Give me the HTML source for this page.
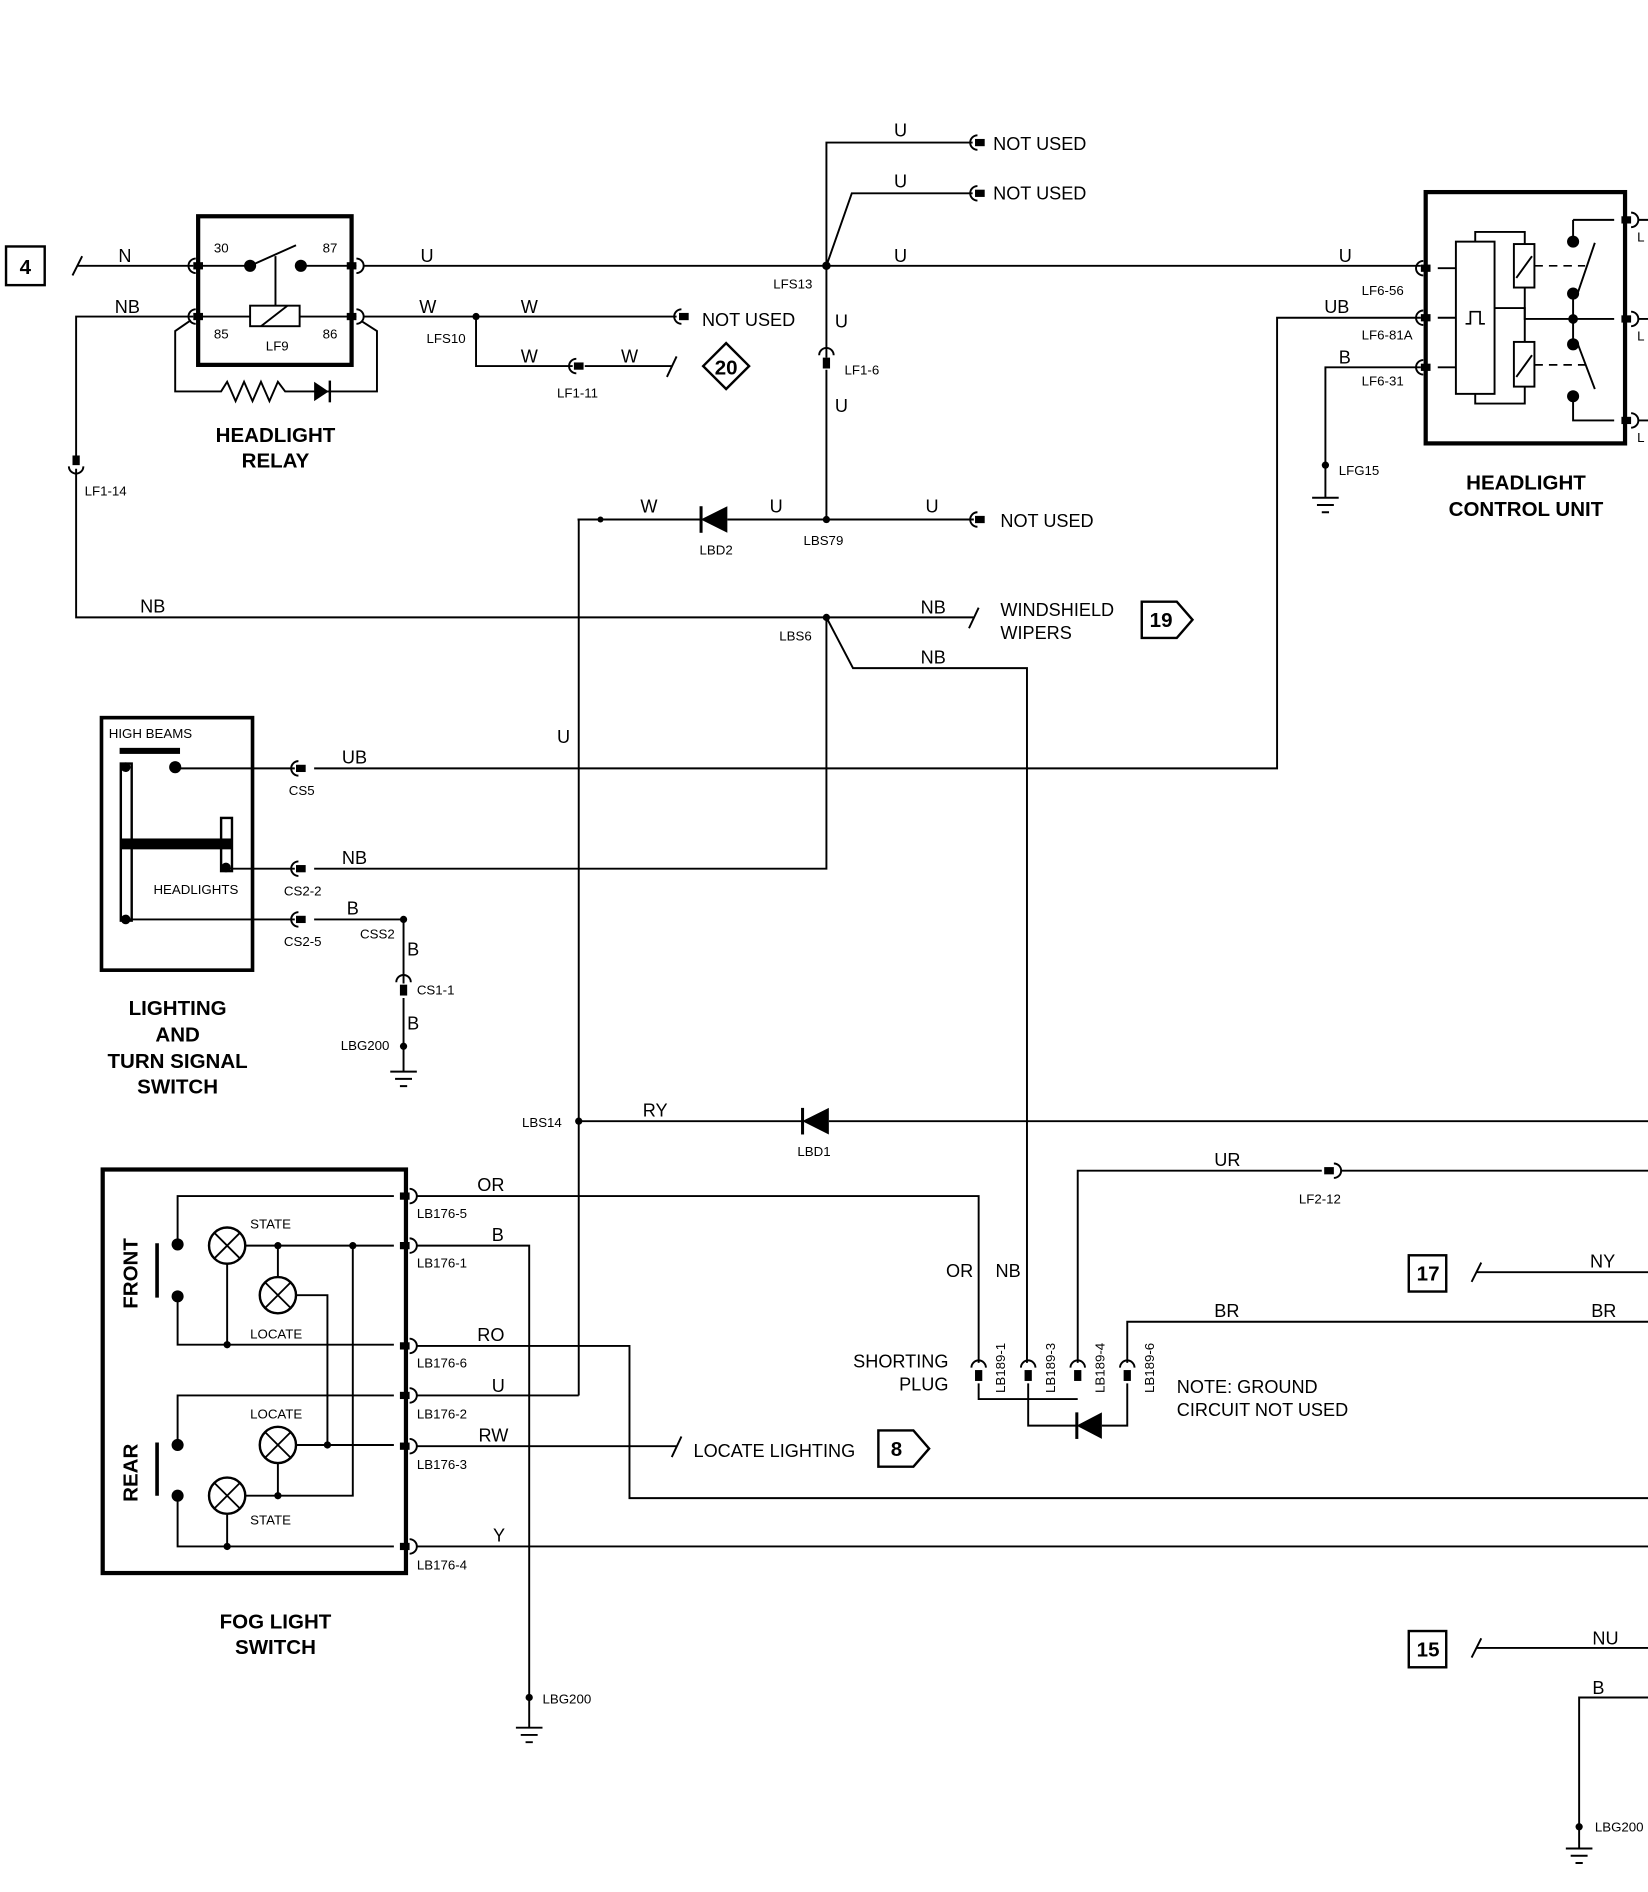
<!DOCTYPE html>
<html><head><meta charset="utf-8"><style>
html,body{margin:0;padding:0;background:#fff;}
svg{display:block;}
text{font-family:"Liberation Sans",Arial,sans-serif;fill:#000;}
.w{font-size:15px;}
.s{font-size:11px;}
.t{font-size:17px;font-weight:bold;}
</style></head><body>
<svg width="1648" height="1892" viewBox="0 0 1364 1566" preserveAspectRatio="none" xmlns="http://www.w3.org/2000/svg">
<defs>
<g id="ch"><path d="M4,-6 A6,6 0 0 0 4,6" fill="none" stroke="#000" stroke-width="1.6"/><rect x="2" y="-3" width="8" height="6" fill="#000"/></g>
<g id="cr"><path d="M-2,-6 A6,6 0 0 1 -2,6" fill="#fff" stroke="#000" stroke-width="1.6"/><rect x="-10" y="-3" width="8" height="6" fill="#000"/></g>
<g id="cv"><path d="M-6,0 A6,6 0 0 0 6,0" fill="none" stroke="#000" stroke-width="1.6"/><rect x="-3" y="-9" width="6" height="8" fill="#000"/></g>
<g id="cu"><path d="M-6,0 A6,6 0 0 1 6,0" fill="none" stroke="#000" stroke-width="1.6"/><rect x="-3" y="2" width="6" height="9" fill="#000"/></g>
<g id="gnd"><path d="M-11,0 H11 M-7,6 H7 M-3,12 H3" stroke="#000" stroke-width="1.6"/></g>
<g id="lamp"><circle r="15" fill="#fff" stroke="#000" stroke-width="2"/><path d="M-10.6,-10.6 L10.6,10.6 M-10.6,10.6 L10.6,-10.6" stroke="#000" stroke-width="1.5"/></g>
</defs>
<g fill="none" stroke="#000" stroke-width="1.6">
<rect x="5" y="204" width="32" height="32" stroke-width="2"/>
<path d="M60,228 L68,212 M64,220 H160"/>
<rect x="164" y="179" width="127" height="123" stroke-width="3.5"/>
<path d="M164,220 H205 M207,220 L245,203 M251,220 H291 M228,212 V253"/>
<path d="M164,262 H207 M248,262 H291"/>
<rect x="207" y="253" width="41" height="17"/>
<path d="M216,270 L238,253"/>
<path d="M158,265 L145,274 V324 H183 L188,316 L195,332 L202,316 L209,332 L216,316 L223,332 L230,316 L236,324 H312 V274 L298,265"/>
<path d="M160,262 H63 V378 M63,388 V511 H806 M802,520 L810,503"/>
<path d="M291,220 H1176"/>
<path d="M684,220 V118 H805 M684,220 L705,160 H805"/>
<path d="M684,220 V296 M684,306 V430"/>
<path d="M478,430 H580 M602,430 H806"/>
<path d="M479,430 V1155"/>
<path d="M291,262 H560 M394,262 V303 H474 M484,303 H556 M552,312 L560,295"/>
<path d="M601,284 L620,303 L601,322 L582,303 Z" stroke-width="2"/>
<path d="M684,511 L706,553 H850 V1128 M684,511 V719 H260"/>
<path d="M945,498 H974 L987,513 L974,528 H945 Z" stroke-width="2"/>
<rect x="1180" y="159" width="165" height="208" stroke-width="3.5"/>
<path d="M1190,222 H1205 M1190,263 H1205 M1190,304 H1205"/>
<rect x="1205" y="200" width="32" height="126"/>
<path d="M1213,268 H1217 V258 H1225 V268 H1229" stroke-width="1.4"/>
<path d="M1221,200 V192 H1262 V202 M1237,255 H1262 V283 M1221,326 V334 H1262 V320"/>
<rect x="1253" y="202" width="17" height="36"/>
<rect x="1253" y="283" width="17" height="37"/>
<path d="M1255,230 L1268,212 M1255,312 L1268,294"/>
<path d="M1262,238 V264 H1302"/>
<path d="M1302,182 H1336 M1302,182 V200 M1305,245 L1320,201 M1302,243 V285 M1306,285 L1320,322 M1302,328 V348 H1336 M1302,264 H1336"/>
<path d="M1352,182 H1364 M1352,264 H1364 M1352,348 H1364"/>
<path d="M1176,263 H1057 V636 H260"/>
<path d="M1176,304 H1097 V412"/>
<rect x="84" y="594" width="125" height="209" stroke-width="3"/>
<path d="M146,636 H244 M190,719 H244 M105,761 H244"/>
<rect x="100" y="632" width="9" height="130" stroke-width="2"/>
<rect x="183" y="677" width="9" height="44" stroke-width="2"/>
<path d="M260,761 H334 V814 M334,826 V887"/>
<path d="M479,928 H664 M686,928 H1364"/>
<rect x="85" y="968" width="251" height="334" stroke-width="3.5"/>
<path d="M147,1030 V990 H326 M147,1073 V1113 H326 M188,1046 V1113 M203,1031 H326 M230,1031 V1057 M245,1072 H271 V1196 M147,1196 V1155 H326 M147,1238 V1280 H326 M188,1254 V1280 M245,1196 H326 M230,1211 V1238 M203,1238 H292 V1031"/>
<path d="M130,1029 V1074 M130,1194 V1238" stroke-width="3"/>
<path d="M340,990 H810 V1128 M340,1031 H438 V1430 M340,1114 H521 V1240 H1364 M340,1155 H479 M340,1197 H560 M556,1206 L564,1189 M340,1280 H1364"/>
<path d="M727,1184 H756 L769,1199 L756,1214 H727 Z" stroke-width="2"/>
<path d="M810,1145 V1158 H892 M851,1145 V1180 H891 M912,1180 H933 V1145 M892,1128 V969 H1094 M1106,969 H1364 M933,1128 V1094 H1364"/>
<rect x="1166" y="1039" width="31" height="30" stroke-width="2"/>
<path d="M1218,1061 L1226,1045 M1222,1053 H1364"/>
<rect x="1166" y="1350" width="31" height="30" stroke-width="2"/>
<path d="M1218,1372 L1226,1356 M1222,1364 H1364 M1364,1405 H1307 V1530"/>
</g>
<path d="M1270,220 H1312 M1270,302 H1312" stroke="#000" stroke-width="1.4" stroke-dasharray="7,5" fill="none"/>
<g fill="#000">
<circle cx="207" cy="220" r="5"/><circle cx="249" cy="220" r="5"/>
<polygon points="260,316 272,324 260,332"/><rect x="272" y="315" width="2" height="18"/>
<circle cx="684" cy="220" r="3.5"/><circle cx="394" cy="262" r="3"/>
<circle cx="684" cy="430" r="3"/><circle cx="497" cy="430" r="2.5"/><circle cx="684" cy="511" r="3"/>
<polygon points="580,430 602,419 602,441"/><rect x="579" y="419" width="2.5" height="22"/>
<polygon points="664,928 686,917 686,939"/><rect x="663" y="917" width="2.5" height="22"/>
<polygon points="891,1180 912,1169 912,1191"/><rect x="890" y="1169" width="2.5" height="22"/>
<circle cx="479" cy="928" r="3"/><circle cx="334" cy="761" r="3"/><circle cx="334" cy="866" r="3"/>
<circle cx="1097" cy="385" r="3"/><circle cx="438" cy="1405" r="3"/><circle cx="1307" cy="1512" r="3"/>
<circle cx="1302" cy="200" r="5"/><circle cx="1302" cy="243" r="5"/><circle cx="1302" cy="264" r="4"/><circle cx="1302" cy="285" r="5"/><circle cx="1302" cy="328" r="5"/>
<rect x="99" y="619" width="50" height="5"/>
<circle cx="145" cy="635" r="5"/><circle cx="104" cy="635" r="4"/><circle cx="104" cy="761" r="4"/><circle cx="187" cy="718" r="4"/>
<rect x="100" y="694" width="92" height="9"/>
<circle cx="147" cy="1030" r="5"/><circle cx="147" cy="1073" r="5"/><circle cx="147" cy="1196" r="5"/><circle cx="147" cy="1238" r="5"/>
<circle cx="230" cy="1031" r="3"/><circle cx="292" cy="1031" r="3"/><circle cx="188" cy="1113" r="3"/><circle cx="271" cy="1196" r="3"/><circle cx="230" cy="1238" r="3"/><circle cx="188" cy="1280" r="3"/>
</g>
<use href="#lamp" x="188" y="1031"/><use href="#lamp" x="230" y="1072"/><use href="#lamp" x="230" y="1196"/><use href="#lamp" x="188" y="1238"/>
<use href="#ch" x="158" y="220"/><use href="#cr" x="297" y="220"/>
<use href="#ch" x="158" y="262"/><use href="#cr" x="297" y="262"/>
<use href="#ch" x="805" y="118"/><use href="#ch" x="805" y="160"/><use href="#ch" x="805" y="430"/><use href="#ch" x="560" y="262"/>
<use href="#ch" x="473" y="303"/><use href="#cu" x="684" y="294"/><use href="#cv" x="63" y="386"/>
<use href="#ch" x="1174" y="222"/><use href="#ch" x="1174" y="263"/><use href="#ch" x="1174" y="304"/>
<use href="#cr" x="1352" y="182"/><use href="#cr" x="1352" y="264"/><use href="#cr" x="1352" y="348"/>
<use href="#ch" x="243" y="636"/><use href="#ch" x="243" y="719"/><use href="#ch" x="243" y="761"/>
<use href="#cu" x="334" y="813"/>
<use href="#cr" x="341" y="990"/><use href="#cr" x="341" y="1031"/><use href="#cr" x="341" y="1114"/><use href="#cr" x="341" y="1155"/><use href="#cr" x="341" y="1197"/><use href="#cr" x="341" y="1280"/>
<use href="#cr" x="1106" y="969"/>
<use href="#cu" x="810" y="1132"/><use href="#cu" x="851" y="1132"/><use href="#cu" x="892" y="1132"/><use href="#cu" x="933" y="1132"/>
<use href="#gnd" x="1097" y="412"/><use href="#gnd" x="334" y="887"/><use href="#gnd" x="438" y="1430"/><use href="#gnd" x="1307" y="1530"/>
<text x="21" y="227" class="t" text-anchor="middle">4</text>
<g class="w">
<text x="98" y="217">N</text><text x="95" y="259">NB</text><text x="348" y="217">U</text>
<text x="740" y="113">U</text><text x="740" y="155">U</text><text x="740" y="217">U</text><text x="1108" y="217">U</text>
<text x="822" y="124">NOT USED</text><text x="822" y="165">NOT USED</text>
<text x="347" y="259">W</text><text x="431" y="259">W</text><text x="431" y="300">W</text><text x="514" y="300">W</text>
<text x="581" y="270">NOT USED</text>
<text x="691" y="271">U</text><text x="691" y="341">U</text>
<text x="530" y="424">W</text><text x="637" y="424">U</text><text x="766" y="424">U</text><text x="828" y="436">NOT USED</text>
<text x="116" y="507">NB</text><text x="762" y="508">NB</text><text x="762" y="549">NB</text>
<text x="828" y="510">WINDSHIELD</text><text x="828" y="529">WIPERS</text>
<text x="1096" y="259">UB</text><text x="1108" y="301">B</text>
<text x="461" y="615">U</text><text x="283" y="632">UB</text><text x="283" y="715">NB</text><text x="287" y="757">B</text>
<text x="337" y="791">B</text><text x="337" y="852">B</text>
<text x="532" y="924">RY</text>
<text x="395" y="986">OR</text><text x="407" y="1027">B</text><text x="395" y="1110">RO</text><text x="407" y="1152">U</text><text x="396" y="1193">RW</text><text x="408" y="1276">Y</text>
<text x="574" y="1206">LOCATE LIGHTING</text>
<text x="1005" y="965">UR</text><text x="783" y="1057">OR</text><text x="824" y="1057">NB</text>
<text x="1005" y="1090">BR</text><text x="1317" y="1090">BR</text><text x="1316" y="1049">NY</text><text x="1318" y="1361">NU</text><text x="1318" y="1402">B</text>
<text x="785" y="1132" text-anchor="end">SHORTING</text><text x="785" y="1151" text-anchor="end">PLUG</text>
<text x="974" y="1153">NOTE: GROUND</text><text x="974" y="1172">CIRCUIT NOT USED</text>
</g>
<g class="t" text-anchor="middle">
<text x="601" y="310">20</text><text x="961" y="519">19</text><text x="742" y="1205">8</text>
<text x="1182" y="1060">17</text><text x="1182" y="1371">15</text>
<text x="228" y="366">HEADLIGHT</text><text x="228" y="387">RELAY</text>
<text x="1263" y="405">HEADLIGHT</text><text x="1263" y="427">CONTROL UNIT</text>
<text x="147" y="840">LIGHTING</text><text x="147" y="862">AND</text><text x="147" y="884">TURN SIGNAL</text><text x="147" y="905">SWITCH</text>
<text x="228" y="1348">FOG LIGHT</text><text x="228" y="1369">SWITCH</text>
<text transform="translate(114,1054) rotate(-90)">FRONT</text>
<text transform="translate(114,1219) rotate(-90)">REAR</text>
</g>
<g class="s">
<text x="177" y="209">30</text><text x="267" y="209">87</text><text x="177" y="280">85</text><text x="267" y="280">86</text><text x="220" y="290">LF9</text>
<text x="640" y="239">LFS13</text><text x="353" y="284">LFS10</text><text x="461" y="329">LF1-11</text><text x="699" y="310">LF1-6</text>
<text x="70" y="410">LF1-14</text><text x="579" y="459">LBD2</text><text x="665" y="451">LBS79</text><text x="645" y="530">LBS6</text>
<text x="1127" y="244">LF6-56</text><text x="1127" y="281">LF6-81A</text><text x="1127" y="319">LF6-31</text><text x="1108" y="393">LFG15</text>
<text x="1355" y="200">L</text><text x="1355" y="282">L</text><text x="1355" y="366">L</text>
<text x="90" y="611">HIGH BEAMS</text><text x="127" y="740">HEADLIGHTS</text>
<text x="239" y="658">CS5</text><text x="235" y="741">CS2-2</text><text x="235" y="783">CS2-5</text>
<text x="298" y="777">CSS2</text><text x="345" y="823">CS1-1</text><text x="282" y="869">LBG200</text>
<text x="432" y="933">LBS14</text><text x="660" y="957">LBD1</text><text x="1075" y="996">LF2-12</text>
<text x="207" y="1017">STATE</text><text x="207" y="1108">LOCATE</text><text x="207" y="1174">LOCATE</text><text x="207" y="1262">STATE</text>
<text x="345" y="1008">LB176-5</text><text x="345" y="1049">LB176-1</text><text x="345" y="1132">LB176-6</text><text x="345" y="1174">LB176-2</text><text x="345" y="1216">LB176-3</text><text x="345" y="1299">LB176-4</text>
<text x="449" y="1410">LBG200</text><text x="1320" y="1516">LBG200</text>
<text transform="translate(832,1153) rotate(-90)">LB189-1</text>
<text transform="translate(873,1153) rotate(-90)">LB189-3</text>
<text transform="translate(914,1153) rotate(-90)">LB189-4</text>
<text transform="translate(955,1153) rotate(-90)">LB189-6</text>
</g>
</svg>
</body></html>
